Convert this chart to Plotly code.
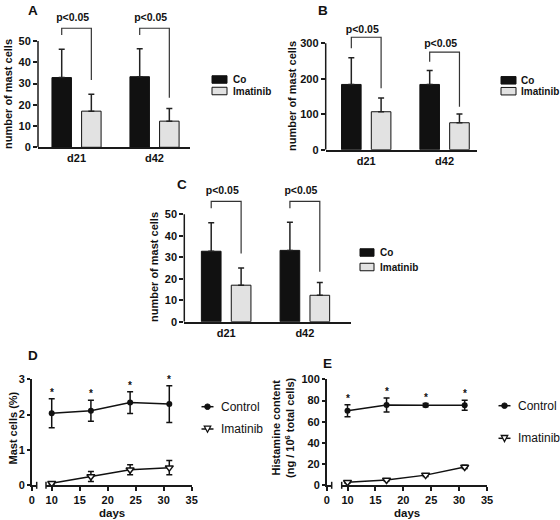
import plotly.graph_objects as go

W, H = 560, 520
FONT = "Liberation Sans"

# ---------------- data ----------------
groups = ["d21", "d42"]
# Panels A and C (same values)
co_cells = [32.8, 33.2]
co_cells_err = [13.3, 13.1]
ima_cells = [17.0, 12.3]
ima_cells_err = [8.0, 5.9]
cells_bracket_top = [56.0, 56.0]
cells_bracket_left = [52.8, 52.8]
cells_bracket_right = [31.7, 23.3]
cells_p_y = [60.5, 60.5]
cells_ticks = [0, 10, 20, 30, 40, 50]

# Panel B
co_b = [184, 184]
co_b_err = [75, 39]
ima_b = [107, 76]
ima_b_err = [39, 25]
b_bracket_top = [317, 275]
b_bracket_left = [286, 248]
b_bracket_right = [173, 121]
b_p_y = [337, 297]
b_ticks = [0, 100, 200, 300]

# Panels D and E
days = [10, 17, 24, 31]
mast_ctrl = [2.04, 2.11, 2.34, 2.30]
mast_ctrl_sd = [0.41, 0.30, 0.31, 0.52]
mast_ima = [0.06, 0.25, 0.44, 0.50]
mast_ima_sd = [0.03, 0.14, 0.14, 0.20]

hist_ctrl = [70.3, 75.8, 75.6, 75.6]
hist_ctrl_sd = [5.6, 6.6, 1.5, 4.7]
hist_ima = [2.8, 5.0, 9.6, 17.3]
hist_ima_sd = [0.8, 1.0, 1.2, 1.5]

p_label = "p<0.05"
star = "*"

# ---------------- helpers ----------------
def px(x):
    return x / W


def py(y):
    return 1 - y / H


BAR_W = 0.25
BAR_GAP = 0.13
CO_C = -(BAR_W + BAR_GAP) / 2
IMA_C = (BAR_W + BAR_GAP) / 2
P_DX = -0.05          # p-value label sits slightly left of the bracket middle
AX = "#1a1a1a"
BOLD = dict(family=FONT, size=11, color="#111", weight="bold")
PFONT = dict(family=FONT, size=10.5, color="#111", weight="bold")

fig = go.Figure()
annotations = []
shapes = []


def ax_name(kind, n):
    return kind if n == 1 else f"{kind}{n}"


def bar_panel(n, co, co_err, ima, ima_err, btop, bleft, bright, p_y, yticks,
              xdom, zero_px, top_px, xrange, range_top):
    """zero_px / top_px: pixel rows of 0 and of the top tick (axis calibration)."""
    xa, ya = ax_name("x", n), ax_name("y", n)
    ymax = yticks[-1]
    per_unit = (zero_px - top_px) / ymax
    dom_top_px = zero_px - range_top * per_unit
    eb = dict(type="data", symmetric=False, color="#222", thickness=1.5, width=3)
    fig.add_trace(go.Bar(
        x=[0, 1], y=co, width=BAR_W, offset=-(BAR_W + BAR_GAP / 2),
        marker=dict(color="#111", line=dict(color="#111", width=1)),
        error_y=dict(eb, array=co_err, arrayminus=[0] * len(co)),
        xaxis=xa, yaxis=ya, showlegend=False, name="Co"))
    fig.add_trace(go.Bar(
        x=[0, 1], y=ima, width=BAR_W, offset=BAR_GAP / 2,
        marker=dict(color="#e2e2e2", line=dict(color="#111", width=1)),
        error_y=dict(eb, array=ima_err, arrayminus=[0] * len(ima)),
        xaxis=xa, yaxis=ya, showlegend=False, name="Imatinib"))
    for i in range(len(btop)):
        fig.add_trace(go.Scatter(
            x=[i + CO_C, i + CO_C, i + IMA_C, i + IMA_C],
            y=[bleft[i], btop[i], btop[i], bright[i]],
            mode="lines", line=dict(color="#333", width=1.2),
            xaxis=xa, yaxis=ya, showlegend=False, hoverinfo="skip"))
    fig.add_trace(go.Scatter(
        x=[i + P_DX for i in range(len(btop))], y=p_y, mode="text",
        text=[p_label] * len(btop), textposition="middle center",
        textfont=PFONT, cliponaxis=False, xaxis=xa, yaxis=ya,
        showlegend=False, hoverinfo="skip"))
    # visible y axis line only from 0 to the top tick
    shapes.append(dict(type="line", xref=f"{xa} domain", x0=0, x1=0, yref=ya,
                       y0=0, y1=ymax, line=dict(color=AX, width=1.5)))
    key = "" if n == 1 else str(n)
    fig.update_layout(**{
        f"xaxis{key}": dict(
            domain=[px(xdom[0]), px(xdom[1])], range=xrange, anchor=ya,
            tickvals=[0, 1], ticktext=groups, ticks="", showline=True,
            linewidth=1.5, linecolor=AX, showgrid=False, zeroline=False,
            tickfont=BOLD, fixedrange=True),
        f"yaxis{key}": dict(
            domain=[py(zero_px), py(dom_top_px)], range=[0, range_top],
            tickvals=yticks, anchor=xa, ticks="outside", ticklen=4,
            tickwidth=1.5, tickcolor=AX, showline=False, showgrid=False,
            zeroline=False, tickfont=BOLD, fixedrange=True),
    })


def bar_legend(x0, x1, y_co, y_ima, hbox, tx):
    for yc, fill, label in [(y_co, "#111", "Co"), (y_ima, "#e2e2e2", "Imatinib")]:
        shapes.append(dict(type="rect", xref="paper", yref="paper",
                           x0=px(x0), x1=px(x1), y0=py(yc + hbox / 2),
                           y1=py(yc - hbox / 2), fillcolor=fill,
                           line=dict(color="#111", width=1)))
        annotations.append(dict(text=label, x=px(tx), y=py(yc), xref="paper",
                                yref="paper", xanchor="left", yanchor="middle",
                                showarrow=False,
                                font=dict(family=FONT, size=10, color="#111",
                                          weight="bold")))


def ytitle(text, xc, yc, size=11):
    annotations.append(dict(text=text, x=px(xc), y=py(yc), xref="paper",
                            yref="paper", xanchor="center", yanchor="middle",
                            textangle=-90, showarrow=False,
                            font=dict(family=FONT, size=size, color="#111",
                                      weight="bold")))


def letter(text, x, y):
    annotations.append(dict(text=text, x=px(x), y=py(y), xref="paper",
                            yref="paper", xanchor="center", yanchor="middle",
                            showarrow=False,
                            font=dict(family=FONT, size=13.5, color="#111",
                                      weight="bold")))


# ---------------- bar panels ----------------
bar_panel(1, co_cells, co_cells_err, ima_cells, ima_cells_err,
          cells_bracket_top, cells_bracket_left, cells_bracket_right,
          cells_p_y, cells_ticks, (38, 190), 147.3, 41, [-0.494, 1.455], 64)
bar_panel(2, co_b, co_b_err, ima_b, ima_b_err,
          b_bracket_top, b_bracket_left, b_bracket_right,
          b_p_y, b_ticks, (325.7, 476.7), 149.7, 43.3, [-0.517, 1.41], 356)
bar_panel(3, co_cells, co_cells_err, ima_cells, ima_cells_err,
          cells_bracket_top, cells_bracket_left, cells_bracket_right,
          cells_p_y, cells_ticks, (184.3, 350.5), 321.7, 214.3, [-0.532, 1.58], 64)

bar_legend(212, 227, 79.5, 91, 7.5, 230.5)
bar_legend(501, 516, 80.3, 91.2, 7.5, 518.5)
bar_legend(360, 374, 252.5, 267, 7.5, 377.5)

ytitle("number of mast cells", 8, 94)
ytitle("number of mast cells", 292, 96)
ytitle("number of mast cells", 154, 267)

letter("A", 33, 10)
letter("B", 323.5, 10)
letter("C", 182, 184)

# ---------------- line panels (broken x axis) ----------------
def line_panel(xs1, xs2, ys, ctrl, ctrl_sd, ima, ima_sd, xdom1, xdom2,
               ydom, x2range, ymax, dtick):
    xa1, xa2, ya = f"x{xs1}", f"x{xs2}", f"y{ys}"
    # empty trace so that the short first axis segment forms its own subplot
    fig.add_trace(go.Scatter(x=[], y=[], xaxis=xa1, yaxis=ya, showlegend=False,
                             hoverinfo="skip"))
    eb = dict(type="data", symmetric=True, color="#111", thickness=1.5, width=3)
    fig.add_trace(go.Scatter(
        x=days, y=ctrl, mode="lines+markers", name="Control",
        line=dict(color="#111", width=1.5),
        marker=dict(symbol="circle", size=6, color="#111"),
        error_y=dict(eb, array=ctrl_sd), xaxis=xa2, yaxis=ya,
        showlegend=False, cliponaxis=False))
    fig.add_trace(go.Scatter(
        x=days, y=ima, mode="lines+markers", name="Imatinib",
        line=dict(color="#111", width=1.5),
        marker=dict(symbol="triangle-down", size=7, color="white",
                    line=dict(color="#111", width=1.5)),
        error_y=dict(eb, array=ima_sd), xaxis=xa2, yaxis=ya,
        showlegend=False, cliponaxis=False))
    for d, m, s in zip(days, ctrl, ctrl_sd):
        annotations.append(dict(text=star, x=d, y=m + s, xref=xa2, yref=ya,
                                xanchor="center", yanchor="bottom", yshift=-1,
                                showarrow=False,
                                font=dict(family=FONT, size=10, color="#111",
                                          weight="bold")))
    common = dict(ticks="outside", ticklen=4, tickwidth=1.5, tickcolor=AX,
                  showline=True, linewidth=1.5, linecolor=AX, showgrid=False,
                  zeroline=False, tickfont=BOLD, fixedrange=True)
    fig.update_layout(**{
        f"xaxis{xs1}": dict(common, domain=[px(xdom1[0]), px(xdom1[1])],
                            range=[0, 0.9], tickvals=[0], anchor=ya),
        f"xaxis{xs2}": dict(common, domain=[px(xdom2[0]), px(xdom2[1])],
                            range=x2range, dtick=5, tick0=0, anchor=ya),
        f"yaxis{ys}": dict(common, domain=[py(ydom[1]), py(ydom[0])],
                           range=[0, ymax], dtick=dtick, anchor=xa1, ticklen=3),
    })
    # break markers on the x axis
    for ref, xpos in [(xa1, 1), (xa2, 0)]:
        shapes.append(dict(type="line", xref=f"{ref} domain", x0=xpos, x1=xpos,
                           yref=f"{ya} domain", ysizemode="pixel", yanchor=0,
                           y0=-3.5, y1=3.5, line=dict(color=AX, width=1.5)))


def line_legend(x0, x1, y_ctrl, y_ima, tx):
    for yc, label, tri in [(y_ctrl, "Control", False), (y_ima, "Imatinib", True)]:
        shapes.append(dict(type="line", xref="paper", yref="paper",
                           x0=px(x0), x1=px(x1), y0=py(yc), y1=py(yc),
                           line=dict(color="#111", width=1.5)))
        xc = (x0 + x1) / 2
        if tri:
            path = (f"M {px(xc - 3.2)} {py(yc - 2.8)} L {px(xc + 3.2)} {py(yc - 2.8)} "
                    f"L {px(xc)} {py(yc + 3.2)} Z")
            shapes.append(dict(type="path", xref="paper", yref="paper", path=path,
                               fillcolor="white", line=dict(color="#111", width=1.3)))
        else:
            shapes.append(dict(type="circle", xref="paper", yref="paper",
                               x0=px(xc - 2.8), x1=px(xc + 2.8),
                               y0=py(yc + 2.8), y1=py(yc - 2.8),
                               fillcolor="#111", line=dict(color="#111", width=1)))
        annotations.append(dict(text=label, x=px(tx), y=py(yc), xref="paper",
                                yref="paper", xanchor="left", yanchor="middle",
                                showarrow=False,
                                font=dict(family=FONT, size=12, color="#111")))


line_panel(4, 5, 4, mast_ctrl, mast_ctrl_sd, mast_ima, mast_ima_sd,
           (31.7, 36.7), (46, 191.7), (379.3, 485.3), [8.98, 35], 3, 1)
line_panel(6, 7, 5, hist_ctrl, hist_ctrl_sd, hist_ima, hist_ima_sd,
           (326.7, 331.7), (341.7, 487), (379.3, 485.3), [8.96, 35], 100, 20)

line_legend(201.5, 213.5, 406.7, 429, 219)
line_legend(498.5, 510.5, 405.7, 438.3, 515.5)

ytitle("Mast cells (%)", 12.5, 428)
ytitle("Histamine content<br>(ng / 10<sup>6</sup> total cells)", 283, 428)
for xc in (112, 407):
    annotations.append(dict(text="days", x=px(xc), y=py(512.5), xref="paper",
                            yref="paper", xanchor="center", yanchor="middle",
                            showarrow=False,
                            font=dict(family=FONT, size=11.5, color="#111",
                                      weight="bold")))
letter("D", 33, 355)
letter("E", 327, 363)

fig.update_layout(
    width=W, height=H, autosize=False,
    margin=dict(l=0, r=0, t=0, b=0, pad=0, autoexpand=False),
    paper_bgcolor="white", plot_bgcolor="rgba(0,0,0,0)",
    barmode="overlay", showlegend=False,
    font=dict(family=FONT, color="#111"),
    annotations=annotations, shapes=shapes,
)

# remove the browser's default page margin synchronously, right after the plot call
fig.write_html(
    "out.html",
    post_script="}); document.documentElement.style.margin='0'; "
                "document.body.style.margin='0'; (function(){",
    config={"displayModeBar": False},
)
